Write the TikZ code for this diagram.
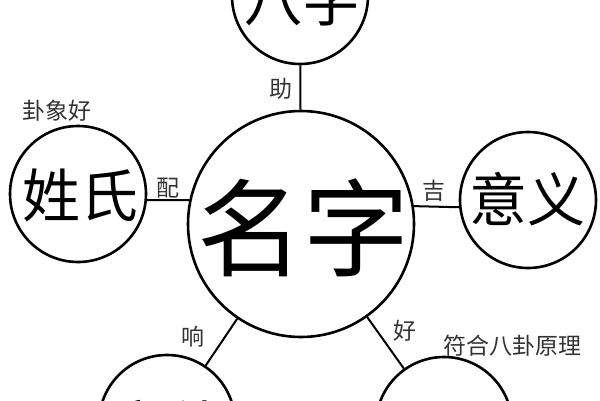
\documentclass[tikz,border=0pt]{standalone}
\usepackage{fontspec}
\setmainfont{Noto Sans CJK SC}
\begin{document}
\begin{tikzpicture}[x=1pt,y=-1pt,
  ring/.style={circle, draw=black, line width=2.6pt, minimum size=#1, inner sep=0pt},
  huge/.style={font=\fontsize{106}{106}\selectfont, inner sep=0pt},
  big/.style={font=\fontsize{58}{58}\selectfont, inner sep=0pt},
  lbl/.style={font=\fontsize{23}{23}\selectfont, text=black!80, inner sep=0pt},
  link/.style={draw=black, line width=2pt}]
\clip (0,0) rectangle (600,400);
\fill[white] (0,0) rectangle (600,400);
% circles
\node[ring=226pt] (c) at (301,224) {};
\node[ring=136pt] (t) at (300,-4) {};
\node[ring=136pt] (l) at (78,194) {};
\node[ring=136pt] (r) at (528,200) {};
\node[ring=136pt] (bl) at (167,423) {};
\node[ring=136pt] (br) at (444,425) {};
% texts in circles
\node[huge] (ctxt) at (303,228) {名字};
\node[big] (ttxt) at (302,-1) {八字};
\node[big] (ltxt) at (81,195) {姓氏};
\node[big] (rtxt) at (527,199) {意义};
\node[big] (bltxt) at (168,427) {音律};
\node[big] (brtxt) at (446,429) {笔画};
% connectors
\draw[link] (t) -- (c);
\draw[link] (l.-5) -- (c.168);
\draw[link] (c.9) -- (r.186);
\draw[link] (c) -- (bl);
\draw[link] (c) -- (br);
% labels
\node[lbl] (zhu) at (281,89) {助};
\node[lbl] (pei) at (168,188) {配};
\node[lbl] (ji) at (434,191) {吉};
\node[lbl] (xiang) at (193,337) {响};
\node[lbl] (hao) at (405,331) {好};
\node[lbl] (gua) at (57,111) {卦象好};
\node[lbl] (fu) at (512,346) {符合八卦原理};
\end{tikzpicture}
\end{document}
